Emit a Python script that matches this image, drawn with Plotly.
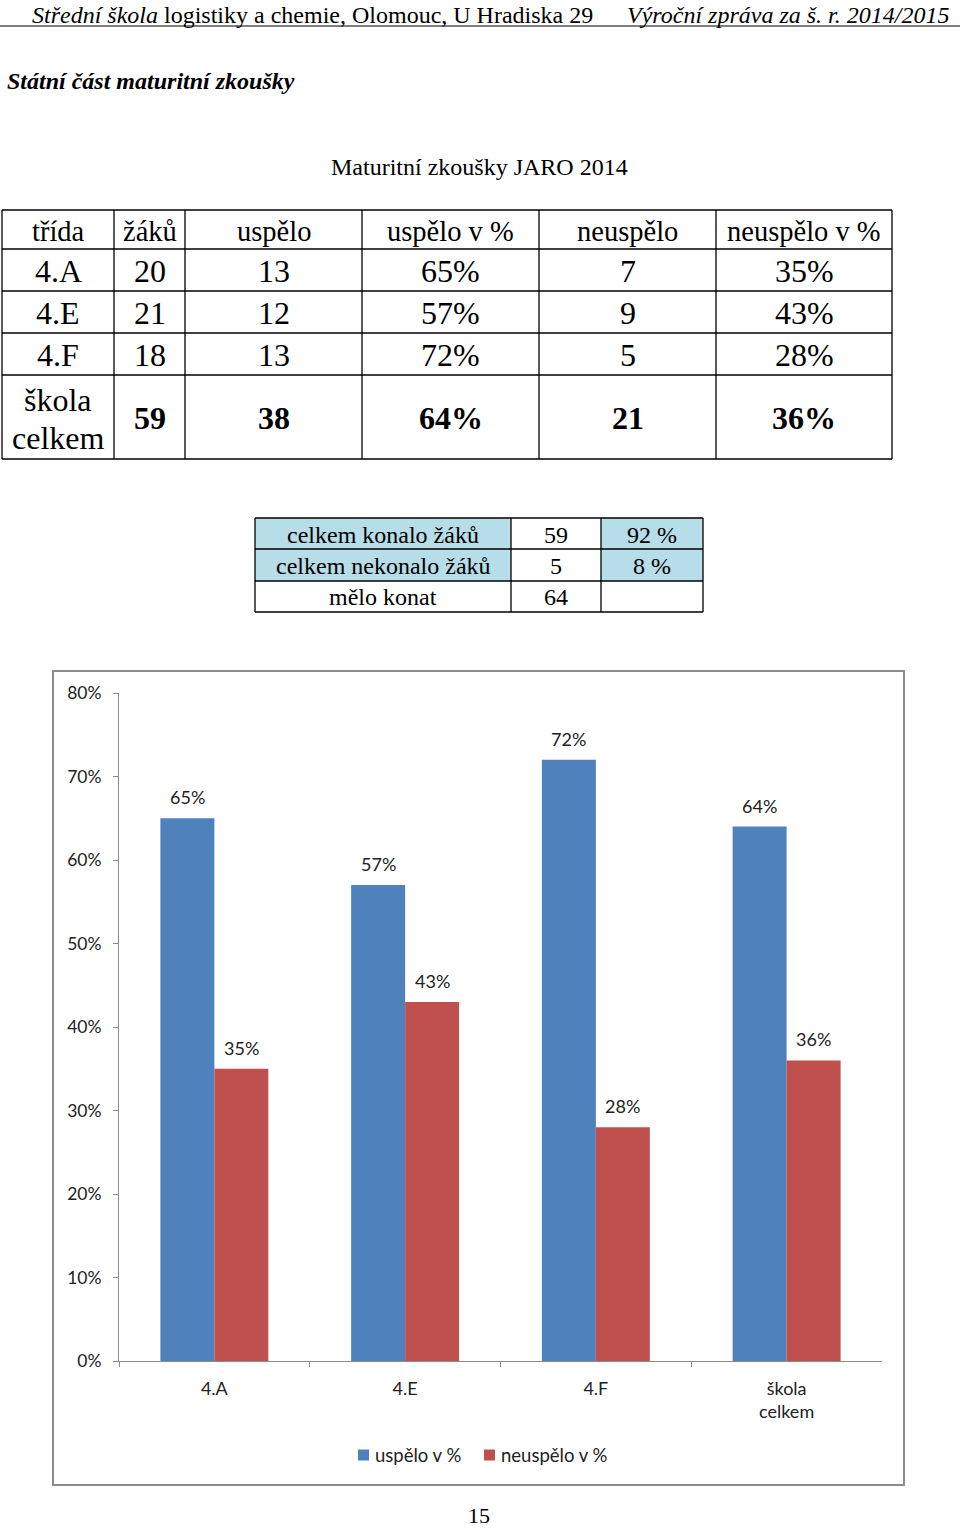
import plotly.graph_objects as go

W, H = 960, 1530

# ---------------- data ----------------
header_left = "<i>Střední škola</i> logistiky a chemie, Olomouc, U Hradiska 29"
header_right = "<i>Výroční zpráva za š. r. 2014/2015</i>"
section_title = "<b><i>Státní část maturitní zkoušky</i></b>"
table_title = "Maturitní zkoušky JARO 2014"
page_number = "15"

col_headers = ["třída", "žáků", "uspělo", "uspělo v %", "neuspělo", "neuspělo v %"]
classes = ["4.A", "4.E", "4.F", "škola<br>celkem"]
students = [20, 21, 18, 59]
passed = [13, 12, 13, 38]
passed_pct = [65, 57, 72, 64]
failed = [7, 9, 5, 21]
failed_pct = [35, 43, 28, 36]

sum_labels = ["celkem konalo žáků", "celkem nekonalo žáků", "mělo konat"]
sum_counts = [59, 5, 64]
sum_shares = ["92 %", "8 %", ""]

chart_categories = ["4.A", "4.E", "4.F", "škola<br>celkem"]
series_names = ["uspělo v %", "neuspělo v %"]
series_colors = ["#4F81BD", "#C0504D"]

# ---------------- helpers ----------------
def px(x):
    return x / W

def py(y):
    return 1 - y / H

SERIF = "Liberation Serif"
SANS = "Lato"

shapes = []
annotations = []

def text(x, y, s, size, font=SERIF, xanchor="center", color="#000", yanchor="middle"):
    annotations.append(dict(x=px(x), y=py(y), xref="paper", yref="paper", text=s,
                            showarrow=False, xanchor=xanchor, yanchor=yanchor,
                            font=dict(family=font, size=size, color=color)))

def hline(x0, x1, y, color="#000", width=1.3):
    shapes.append(dict(type="line", xref="paper", yref="paper", x0=px(x0), x1=px(x1),
                       y0=py(y), y1=py(y), line=dict(color=color, width=width)))

def vline(x, y0, y1, color="#000", width=1.3):
    shapes.append(dict(type="line", xref="paper", yref="paper", x0=px(x), x1=px(x),
                       y0=py(y0), y1=py(y1), line=dict(color=color, width=width)))

def rect(x0, y0, x1, y1, fill=None, line=None, lw=0, layer="below"):
    shapes.append(dict(type="rect", xref="paper", yref="paper", x0=px(x0), x1=px(x1),
                       y0=py(y0), y1=py(y1), fillcolor=fill or "rgba(0,0,0,0)",
                       line=dict(color=line or "rgba(0,0,0,0)", width=lw), layer=layer))

# ---------------- page header ----------------
text(30, 0, header_left, 24, xanchor="left", yanchor="top")
text(951, 0, header_right, 24, xanchor="right", yanchor="top")
hline(0, 960, 26, color="#7f7f7f", width=2)
text(5, 81, section_title, 24, xanchor="left")
text(479, 167, table_title, 24)

# ---------------- table 1 ----------------
t1_cols = [2, 114, 185, 362, 539, 716, 892]
t1_rows = [210, 249, 291, 333, 375, 459]
for yy in t1_rows:
    hline(t1_cols[0], t1_cols[-1], yy)
for xx in t1_cols:
    vline(xx, t1_rows[0], t1_rows[-1])
centers = [(t1_cols[i] + t1_cols[i + 1]) / 2 for i in range(6)]
hy = (t1_rows[0] + t1_rows[1]) / 2 + 2
for c, h in zip(centers, col_headers):
    text(c, hy, h, 28.5)
for r in range(4):
    cy = (t1_rows[r + 1] + t1_rows[r + 2]) / 2 + 1
    vals = [classes[r], students[r], passed[r], f"{passed_pct[r]}%", failed[r], f"{failed_pct[r]}%"]
    for j, (c, v) in enumerate(zip(centers, vals)):
        s = str(v)
        if r == 3 and j > 0:
            s = f"<b>{s}</b>"
        lines = s.split("<br>")
        if len(lines) == 1:
            text(c, cy, s, 32)
        else:
            step = 38
            top = cy - step * (len(lines) - 1) / 2 + 1
            for i, ln in enumerate(lines):
                text(c, top + i * step, ln, 32)

# ---------------- table 2 ----------------
t2_cols = [255, 511, 601, 703]
t2_rows = [518, 549, 581, 612]
for r in range(2):
    rect(t2_cols[0], t2_rows[r], t2_cols[1], t2_rows[r + 1], fill="#B7DDE8")
    rect(t2_cols[2], t2_rows[r], t2_cols[3], t2_rows[r + 1], fill="#B7DDE8")
for yy in t2_rows:
    hline(t2_cols[0], t2_cols[-1], yy)
for xx in t2_cols:
    vline(xx, t2_rows[0], t2_rows[-1])
c2 = [(t2_cols[i] + t2_cols[i + 1]) / 2 for i in range(3)]
for r in range(3):
    cy = (t2_rows[r] + t2_rows[r + 1]) / 2 + 1
    for c, v in zip(c2, [sum_labels[r], sum_counts[r], sum_shares[r]]):
        if str(v):
            text(c, cy, str(v), 24)

# ---------------- chart frame ----------------
rect(53, 671, 904, 1485, line="#8c8c8c", lw=2)

# ---------------- chart ----------------
fig = go.Figure()
BAR_HALF = 27
for k, (name, vals, col) in enumerate(zip(series_names, [passed_pct, failed_pct], series_colors)):
    yv = [v / 100 for v in vals]
    fig.add_trace(go.Bar(
        x=chart_categories, y=yv, name=name,
        marker=dict(color=col, line=dict(width=0)),
        showlegend=False,
    ))
    # data labels placed through the axis scales
    for cat, v in zip(chart_categories, yv):
        annotations.append(dict(x=cat, y=v, xref="x", yref="y", text=f"{round(v * 100)}%",
                                showarrow=False, xanchor="center", yanchor="middle",
                                xshift=(-1 if k == 0 else 1) * BAR_HALF, yshift=21,
                                font=dict(family=SANS, size=18, color="#222")))

# manual legend (Excel style: small square tight to text)
leg_items = [(358, series_names[0], series_colors[0]), (484, series_names[1], series_colors[1])]
for x0, name, col in leg_items:
    rect(x0, 1449.5, x0 + 11, 1460.5, fill=col, layer="above")
    text(x0 + 15, 1455, name, 18.5, font=SANS, xanchor="left", color="#222")

text(479, 1530, page_number, 22, yanchor="bottom")

fig.update_layout(
    width=W, height=H, margin=dict(l=0, r=0, t=0, b=0, autoexpand=False),
    paper_bgcolor="white", plot_bgcolor="white",
    barmode="group", bargap=0.434, bargroupgap=0,
    showlegend=False,
    xaxis=dict(domain=[px(119), px(882)], type="category", tickson="boundaries",
               ticks="outside", ticklen=5, tickcolor="#8c8c8c", showline=True,
               linecolor="#8c8c8c", linewidth=1, showgrid=False, automargin=False,
               tickfont=dict(family=SANS, size=18, color="#222"), ticklabelstandoff=11),
    yaxis=dict(domain=[py(1361), py(693)], range=[0, 0.8], dtick=0.1, tickformat=".0%",
               ticks="outside", ticklen=5, tickcolor="#8c8c8c", showline=True,
               linecolor="#8c8c8c", linewidth=1, showgrid=False, zeroline=False,
               automargin=False,
               tickfont=dict(family=SANS, size=17.5, color="#222"), ticklabelstandoff=8),
    shapes=shapes, annotations=annotations,
    font=dict(family=SANS),
)

fig.write_html("out.html")
